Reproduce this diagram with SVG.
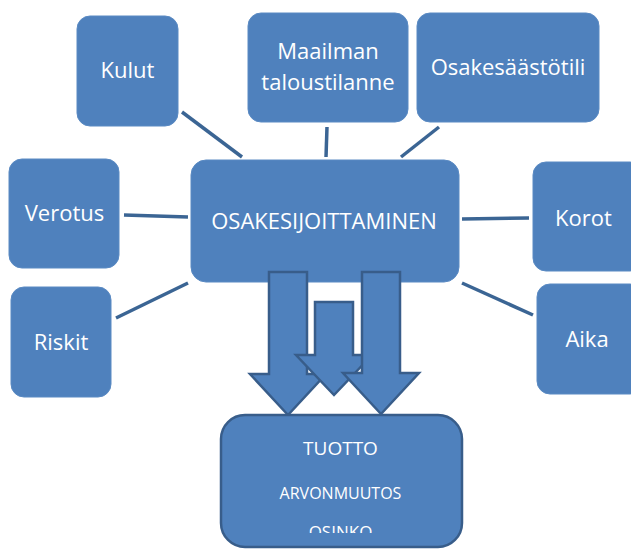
<svg xmlns="http://www.w3.org/2000/svg" width="631" height="549" viewBox="0 0 631 549">
<style>
.box{fill:#4f81bd;stroke:#5a8ac3;stroke-width:1}
.lbl{fill:#ffffff;font-family:"Open Sans","Noto Sans","Liberation Sans",sans-serif;font-size:22px;text-anchor:middle}
.conn{stroke:#3b6594;stroke-width:3.5;fill:none}
.arr{fill:#4f81bd;stroke:#385d8a;stroke-width:2.5;stroke-linejoin:miter}
</style>
<defs>
<clipPath id="clipBottom"><rect x="0" y="0" width="631" height="533"/></clipPath>
</defs>
<rect width="631" height="549" fill="#ffffff"/>
<g id="connectors">
<line class="conn" x1="182" y1="112" x2="242" y2="157"/>
<line class="conn" x1="327" y1="127" x2="326" y2="157"/>
<line class="conn" x1="439" y1="127" x2="401" y2="157"/>
<line class="conn" x1="124" y1="215" x2="188" y2="217"/>
<line class="conn" x1="462" y1="219" x2="529" y2="218"/>
<line class="conn" x1="116" y1="318" x2="188" y2="283"/>
<line class="conn" x1="462" y1="283" x2="533" y2="315"/>
</g>
<g id="kulut">
<rect class="box" x="77" y="16" width="101" height="110" rx="13"/>
<text class="lbl" x="127.5" y="78">Kulut</text>
</g>
<g id="maailman">
<rect class="box" x="248" y="13" width="160" height="109" rx="13"/>
<text class="lbl" x="328" y="59">Maailman</text>
<text class="lbl" x="328" y="90">taloustilanne</text>
</g>
<g id="osakesaastotili">
<rect class="box" x="417" y="13" width="182" height="109" rx="13"/>
<text class="lbl" x="508" y="75">Osakesäästötili</text>
</g>
<g id="verotus">
<rect class="box" x="9" y="159" width="110" height="109" rx="13"/>
<text class="lbl" x="64.5" y="221">Verotus</text>
</g>
<g id="korot">
<rect class="box" x="533" y="162" width="110" height="109" rx="13"/>
<text class="lbl" x="583.5" y="226">Korot</text>
</g>
<g id="riskit">
<rect class="box" x="11" y="287" width="100" height="110" rx="13"/>
<text class="lbl" x="61" y="350">Riskit</text>
</g>
<g id="aika">
<rect class="box" x="537" y="284" width="106" height="110" rx="13"/>
<text class="lbl" x="587" y="347">Aika</text>
</g>
<g id="osakesijoittaminen">
<rect class="box" x="191" y="160" width="268" height="122" rx="15"/>
<text class="lbl" x="324" y="229">OSAKESIJOITTAMINEN</text>
</g>
<g id="arrows">
<polygon class="arr" points="269,272 307,272 307,374 326,374 288,415 250,374 269,374"/>
<polygon class="arr" points="315,302 353,302 353,355 372,355 334,395 296,355 315,355"/>
<polygon class="arr" points="362,272 400,272 400,373 419,373 381,414 343,373 362,373"/>
</g>
<g id="tuotto">
<rect x="221" y="415" width="241" height="132" rx="24" fill="#4f81bd" stroke="#385d8a" stroke-width="2.5"/>
<text class="lbl" x="340.5" y="455" style="font-size:19px">TUOTTO</text>
<text class="lbl" x="340.5" y="499" style="font-size:16px">ARVONMUUTOS</text>
<text class="lbl" x="340.5" y="538" style="font-size:17px" clip-path="url(#clipBottom)">OSINKO</text>
</g>
</svg>
